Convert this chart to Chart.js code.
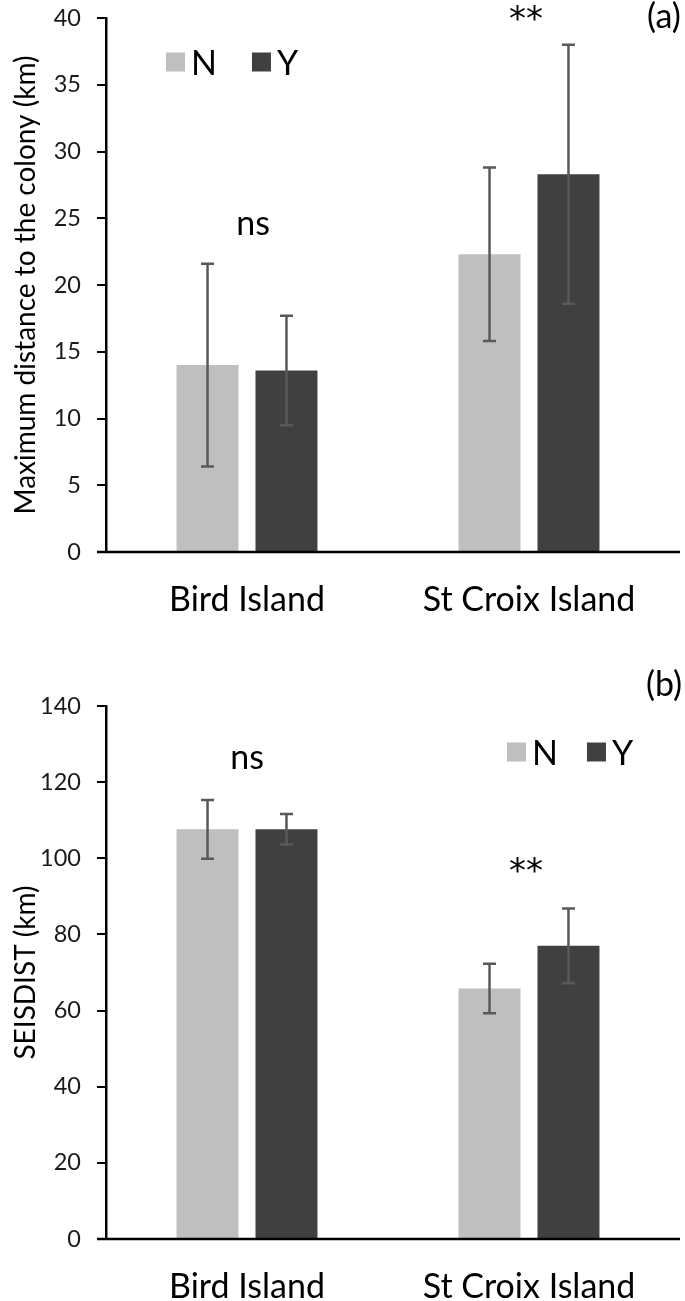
<!DOCTYPE html>
<html>
<head>
<meta charset="utf-8">
<script src="https://cdn.jsdelivr.net/npm/chart.js@4.4.1/dist/chart.umd.min.js"></script>
<style>
  html, body { margin: 0; padding: 0; background: #fff; }
  #wrap { position: relative; width: 685px; height: 1301px; }
  canvas { position: absolute; left: 0; }
  #chartA { top: 0; }
  #chartB { top: 640px; }
</style>
</head>
<body>
<div id="wrap">
  <canvas id="chartA" width="685" height="640"></canvas>
  <canvas id="chartB" width="685" height="661"></canvas>
</div>
<script>
// ===== DATA =====
const islands = ["Bird Island", "St Croix Island"];
const groups = ["N", "Y"];

// (a) maximum distance to the colony (km), mean and error
const maxDistN = [14.0, 22.3];
const maxDistNErr = [7.6, 6.5];
const maxDistY = [13.6, 28.3];
const maxDistYErr = [4.1, 9.7];
const maxDistTicks = [0, 5, 10, 15, 20, 25, 30, 35, 40];

// (b) SEISDIST (km), mean and error
const seisN = [107.6, 65.8];
const seisNErr = [7.7, 6.5];
const seisY = [107.6, 77.0];
const seisYErr = [4.0, 9.8];
const seisTicks = [0, 20, 40, 60, 80, 100, 120, 140];

// significance between N and Y, per island
const sigA = ["ns", "**"];
const sigB = ["ns", "**"];

const colN = "#bfbfbf";
const colY = "#404040";
const errCol = "#595959";

Chart.defaults.font.family = "Lato";
Chart.defaults.color = "#1a1a1a";

// draw text with its ink box centred on (x, y)
function centredText(ctx, txt, x, y) {
    ctx.textBaseline = "alphabetic";
    const m = ctx.measureText(txt);
    ctx.fillText(txt, x, y + (m.actualBoundingBoxAscent - m.actualBoundingBoxDescent) / 2);
}

// ===== Error bars, legend and labels =====
const panelPlugin = {
    id: "panel",
    afterDatasetsDraw(chart, args, opts) {
        const { ctx } = chart;
        const y = chart.scales.y;
        ctx.save();
        ctx.strokeStyle = errCol;
        ctx.lineWidth = 2.5;
        chart.data.datasets.forEach((ds, di) => {
            const meta = chart.getDatasetMeta(di);
            meta.data.forEach((bar, i) => {
                const hi = y.getPixelForValue(ds.data[i] + ds.err[i]);
                const lo = y.getPixelForValue(ds.data[i] - ds.err[i]);
                ctx.beginPath();
                ctx.moveTo(bar.x, hi); ctx.lineTo(bar.x, lo);
                ctx.moveTo(bar.x - 6.5, hi); ctx.lineTo(bar.x + 6.5, hi);
                ctx.moveTo(bar.x - 6.5, lo); ctx.lineTo(bar.x + 6.5, lo);
                ctx.stroke();
            });
        });
        ctx.restore();
    },
    afterDraw(chart, args, opts) {
        const { ctx, chartArea } = chart;
        const x = chart.scales.x;
        const y = chart.scales.y;
        ctx.save();

        // x axis line, running past the y axis like the original
        ctx.strokeStyle = "#000";
        ctx.lineWidth = 2.5;
        ctx.beginPath();
        ctx.moveTo(chartArea.left - 9, chartArea.bottom);
        ctx.lineTo(680, chartArea.bottom);
        ctx.stroke();

        // legend
        ctx.font = "34px Lato";
        ctx.textAlign = "left";
        let lx = chartArea.left + opts.legend.dx;
        const ly = chartArea.top + opts.legend.dy;
        chart.data.datasets.forEach(ds => {
            ctx.fillStyle = ds.backgroundColor;
            ctx.fillRect(lx, ly - 9.5, 19, 19);
            ctx.fillStyle = "#000";
            centredText(ctx, ds.label, lx + 25, ly);
            lx += 25 + ctx.measureText(ds.label).width + opts.legend.gap;
        });

        // significance marks
        ctx.textAlign = "center";
        opts.marks.forEach((m, i) => {
            const s = opts.sig[i];
            ctx.font = s === "**" ? "34px 'DejaVu Sans'" : "34px Lato";
            centredText(ctx, s, x.getPixelForValue(i) + m.dx, y.getPixelForValue(m.at));
        });

        // panel letter
        ctx.font = "34px Lato";
        centredText(ctx, opts.letter, 664, opts.letterY);
        ctx.restore();
    }
};

function makeChart(id, nVals, nErr, yVals, yErr, ticks, title, pad, axisH, notes) {
    return new Chart(document.getElementById(id), {
        type: "bar",
        data: {
            labels: islands,
            datasets: [
                { label: groups[0], data: nVals, err: nErr, backgroundColor: colN },
                { label: groups[1], data: yVals, err: yErr, backgroundColor: colY }
            ]
        },
        options: {
            responsive: false,
            animation: false,
            categoryPercentage: 0.56,
            barPercentage: 0.785,
            layout: { padding: { top: pad, right: 15, left: 0, bottom: 0 } },
            scales: {
                x: {
                    border: { display: false },
                    grid: { display: false, drawTicks: false },
                    ticks: { font: { size: 34 }, color: "#000", padding: 28 },
                    afterFit(scale) { scale.height = axisH; }
                },
                y: {
                    min: ticks[0],
                    max: ticks[ticks.length - 1],
                    border: { color: "#000", width: 2.5 },
                    grid: { drawOnChartArea: false, tickLength: 9, color: "#000", lineWidth: 2 },
                    ticks: { stepSize: ticks[1] - ticks[0], font: { size: 23.5 }, padding: 16 },
                    title: { display: true, text: title, font: { size: 28 }, color: "#000",
                             padding: { top: 9 } },
                    afterFit(scale) {
                        scale.width = 106;
                        scale.paddingTop = 0;
                        scale.paddingBottom = 0;
                    }
                }
            },
            plugins: {
                legend: { display: false },
                tooltip: { enabled: false },
                panel: notes
            }
        },
        plugins: [panelPlugin]
    });
}

// ===== (a) =====
makeChart("chartA", maxDistN, maxDistNErr, maxDistY, maxDistYErr, maxDistTicks,
    "Maximum distance to the colony (km)", 18, 88, {
        legend: { dx: 60, dy: 44, gap: 35 },
        sig: sigA,
        marks: [{ at: 24.4, dx: 6 }, { at: 40.4, dx: -3 }],
        letter: "(a)", letterY: 17
    });

// ===== (b) =====
makeChart("chartB", seisN, seisNErr, seisY, seisYErr, seisTicks,
    "SEISDIST (km)", 66, 62, {
        legend: { dx: 401, dy: 46, gap: 29 },
        sig: sigB,
        marks: [{ at: 125.7, dx: 0 }, { at: 98.2, dx: -3 }],
        letter: "(b)", letterY: 45
    });
</script>
</body>
</html>
